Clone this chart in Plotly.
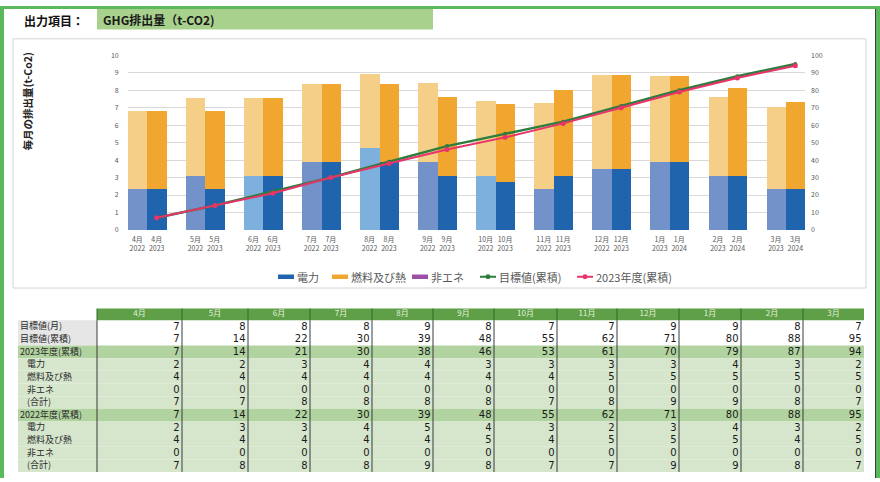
import plotly.graph_objects as go

# ---------------- data ----------------
months = ["4月", "5月", "6月", "7月", "8月", "9月", "10月", "11月", "12月", "1月", "2月", "3月"]
years_prev = ["2022"] * 9 + ["2023"] * 3
years_curr = ["2023"] * 9 + ["2024"] * 3

# chart bars (t-CO2)
bar_elec_2022 = [2.32, 3.10, 3.10, 3.89, 4.67, 3.89, 3.10, 2.32, 3.50, 3.89, 3.10, 2.32]
bar_fuel_2022 = [4.47, 4.45, 4.45, 4.47, 4.25, 4.50, 4.25, 4.93, 5.38, 4.91, 4.47, 4.73]
bar_elec_2023 = [2.32, 2.32, 3.10, 3.89, 3.89, 3.10, 2.71, 3.10, 3.50, 3.89, 3.10, 2.32]
bar_fuel_2023 = [4.47, 4.47, 4.45, 4.47, 4.47, 4.47, 4.47, 4.92, 5.38, 4.91, 4.99, 4.99]
bar_nonen_2023 = [0] * 12

# table rows
target_month = [7, 8, 8, 8, 9, 8, 7, 7, 9, 9, 8, 7]
target_cum = [7, 14, 22, 30, 39, 48, 55, 62, 71, 80, 88, 95]
cum_2023 = [7, 14, 21, 30, 38, 46, 53, 61, 70, 79, 87, 94]
elec_2023 = [2, 2, 3, 4, 4, 3, 3, 3, 3, 4, 3, 2]
fuel_2023 = [4, 4, 4, 4, 4, 4, 4, 5, 5, 5, 5, 5]
nonen_2023 = [0] * 12
total_2023 = [7, 7, 8, 8, 8, 8, 7, 8, 9, 9, 8, 7]
cum_2022 = [7, 14, 22, 30, 39, 48, 55, 62, 71, 80, 88, 95]
elec_2022 = [2, 3, 3, 4, 5, 4, 3, 2, 3, 4, 3, 2]
fuel_2022 = [4, 4, 4, 4, 4, 5, 4, 5, 5, 5, 4, 5]
nonen_2022 = [0] * 12
total_2022 = [7, 8, 8, 8, 9, 8, 7, 7, 9, 9, 8, 7]

row_labels = ["目標値(月)", "目標値(累積)", "2023年度(累積)", "電力", "燃料及び熱", "非エネ", "(合計)",
              "2022年度(累積)", "電力", "燃料及び熱", "非エネ", "(合計)"]
row_values = [target_month, target_cum, cum_2023, elec_2023, fuel_2023, nonen_2023, total_2023,
              cum_2022, elec_2022, fuel_2022, nonen_2022, total_2022]
row_kind = ["target", "target", "major", "minor", "minor", "minor", "minor",
            "major", "minor", "minor", "minor", "minor"]

legend_names = ["電力", "燃料及び熱", "非エネ", "目標値(累積)", "2023年度(累積)"]

# ---------------- layout constants ----------------
W, H = 880, 482
JP = "Noto Sans CJK JP"
GRAY = "#595959"

C_E22 = "#7392c9"
C_E22_LIGHT = "#7db0dc"
C_E23 = "#1f64ad"
C_F22 = "#f5cf88"
C_F23 = "#f1a630"
C_NON = "#9b4fa5"
C_TGT = "#2e7d3e"
C_ACT = "#e8336b"

x_prev = [3 * i + 0.5 for i in range(12)]
x_curr = [3 * i + 1.5 for i in range(12)]
elec22_colors = [C_E22_LIGHT if m in ("6月", "8月", "10月") else C_E22 for m in months]

fig = go.Figure()

# bars
fig.add_trace(go.Bar(x=x_prev, y=bar_elec_2022, width=1, marker=dict(color=elec22_colors, line_width=0),
                     showlegend=False, name="電力 2022"))
fig.add_trace(go.Bar(x=x_prev, y=bar_fuel_2022, width=1, marker=dict(color=C_F22, line_width=0),
                     showlegend=False, name="燃料及び熱 2022"))
fig.add_trace(go.Bar(x=x_curr, y=bar_elec_2023, width=1, marker=dict(color=C_E23, line_width=0),
                     showlegend=False, name="電力"))
fig.add_trace(go.Bar(x=x_curr, y=bar_fuel_2023, width=1, marker=dict(color=C_F23, line_width=0),
                     showlegend=False, name="燃料及び熱"))
fig.add_trace(go.Bar(x=x_curr, y=bar_nonen_2023, width=1, marker=dict(color=C_NON, line_width=0),
                     showlegend=False, name="非エネ"))

# cumulative lines on right axis
fig.add_trace(go.Scatter(x=x_curr, y=target_cum, yaxis="y2", mode="lines+markers",
                         line=dict(color=C_TGT, width=2.5), marker=dict(size=4, color=C_TGT),
                         showlegend=False, name="目標値(累積)"))
fig.add_trace(go.Scatter(x=x_curr, y=cum_2023, yaxis="y2", mode="lines+markers",
                         line=dict(color=C_ACT, width=2), marker=dict(size=5, color=C_ACT),
                         showlegend=False, name="2023年度(累積)"))

# ---------------- helper pixel axis (x3/y3) ----------------
shapes = []
annotations = []

def rect(x0, y0, x1, y1, fill, line_color=None, lw=0, layer="below"):
    shapes.append(dict(type="rect", xref="x3", yref="y3", x0=x0, y0=y0, x1=x1, y1=y1,
                       fillcolor=fill, line=dict(color=line_color or fill, width=lw), layer=layer))

def vline(x, y0, y1, color, w=1):
    shapes.append(dict(type="line", xref="x3", yref="y3", x0=x, x1=x, y0=y0, y1=y1,
                       line=dict(color=color, width=w)))

# outer green frame
rect(0, 0, 4, H, "#5cb85c")
rect(0, 0, W, 3, "#5cb85c")
rect(876, 0, W, H, "#5cb85c")
vline(875.5, 3, H, "#3c3c3c")
# chart frame
shapes.append(dict(type="rect", xref="x3", yref="y3", x0=13, y0=33.5, x1=866, y1=288,
                   line=dict(color="#d4d4d4", width=1), fillcolor="rgba(0,0,0,0)"))
# title box
rect(97, 3, 433, 24, "#a9d18e")

# manual legend (short Excel-like swatches)
leg_y = 276.5
leg_start = [278, 332, 412, 480, 577]
leg_cols = [C_E23, C_F23, C_NON, C_TGT, C_ACT]
leg_marker = [False, False, False, True, True]
for nm, sx, col, mk in zip(legend_names, leg_start, leg_cols, leg_marker):
    shapes.append(dict(type="line", xref="x3", yref="y3", x0=sx, x1=sx + 16, y0=leg_y, y1=leg_y,
                       line=dict(color=col, width=2 if mk else 4.5)))
    if mk:
        shapes.append(dict(type="circle", xref="x3", yref="y3", x0=sx + 5.5, x1=sx + 10.5,
                           y0=leg_y - 2.5, y1=leg_y + 2.5, fillcolor=col, line=dict(width=0)))
    annotations.append(dict(text=nm, x=sx + 17, y=leg_y, xref="x3", yref="y3", xanchor="left",
                            yanchor="middle", showarrow=False,
                            font=dict(family=JP, size=11, color=GRAY)))

# table
col_edges = [97, 182, 248, 310, 372, 433, 494, 557, 617, 679, 741, 803, 864]
head_top, head_bot = 309, 321
row_h = 12.9
row_top0 = 321
lab_left = 18

rect(col_edges[0], head_top, col_edges[-1], head_bot, "#5f9f47")
for r, kind in enumerate(row_kind):
    y0 = row_top0 + r * row_h
    y1 = y0 + row_h
    if kind == "target":
        rect(lab_left, y0, col_edges[0], y1, "#e7e6e6")
    elif kind == "major":
        rect(lab_left, y0, col_edges[-1], y1, "#b1d39f")
    else:
        rect(lab_left, y0, col_edges[-1], y1, "#d6e6cd")
table_bot = row_top0 + len(row_kind) * row_h
for xe in col_edges[:-1]:
    vline(xe, head_top, head_bot, "#2f6b2a")
    vline(xe, head_bot, table_bot, "#3a3a3a")

# header text
fig.add_trace(go.Scatter(
    x=[(col_edges[j] + col_edges[j + 1]) / 2 for j in range(12)], y=[(head_top + head_bot) / 2] * 12,
    text=months, mode="text", textposition="middle center", xaxis="x3", yaxis="y3",
    textfont=dict(family=JP, size=8, color="#e3f1dc"), showlegend=False, hoverinfo="skip"))

# values
vx, vy, vt = [], [], []
for r, vals in enumerate(row_values):
    for j, v in enumerate(vals):
        vx.append(col_edges[j + 1] - 2.5)
        vy.append(row_top0 + r * row_h + row_h / 2 + 0.5)
        vt.append(str(v))
fig.add_trace(go.Scatter(x=vx, y=vy, text=vt, mode="text", textposition="middle left",
                         xaxis="x3", yaxis="y3", showlegend=False, hoverinfo="skip",
                         textfont=dict(family="DejaVu Sans", size=10, color="#1a1a1a")))
# labels
lx = [lab_left + 2 if k in ("target", "major") else lab_left + 9 for k in row_kind]
ly = [row_top0 + r * row_h + row_h / 2 + 0.5 for r in range(len(row_kind))]
fig.add_trace(go.Scatter(x=lx, y=ly, text=row_labels, mode="text", textposition="middle right",
                         xaxis="x3", yaxis="y3", showlegend=False, hoverinfo="skip",
                         textfont=dict(family=JP, size=9, color="#2a2a2a")))

# ---------------- axes / layout ----------------
def px(xp):
    return xp / W
def py(yp):
    return 1 - yp / H

ticktext = []
tickvals = []
for i in range(12):
    tickvals += [x_prev[i], x_curr[i]]
    ticktext += [f"{months[i]}<br>{years_prev[i]}", f"{months[i]}<br>{years_curr[i]}"]

annotations += [
    dict(text="<b>出力項目：</b>", x=px(22), y=py(15), xref="paper", yref="paper",
         xanchor="left", yanchor="middle", showarrow=False,
         font=dict(family=JP, size=12, color="#111111")),
    dict(text="<b>GHG排出量（t-CO2)</b>", x=px(101), y=py(13.5), xref="paper", yref="paper",
         xanchor="left", yanchor="middle", showarrow=False,
         font=dict(family=JP, size=12, color="#1a1a1a")),
    dict(text="<b>毎月の排出量(t-Co2)</b>", x=px(28), y=py(44), xref="paper", yref="paper",
         xanchor="center", yanchor="top", textangle=-90, showarrow=False,
         font=dict(family=JP, size=10.5, color="#222222")),
]

fig.update_layout(
    width=W, height=H, margin=dict(l=0, r=0, t=0, b=0),
    paper_bgcolor="white", plot_bgcolor="rgba(0,0,0,0)",
    barmode="relative", bargap=0, showlegend=False,
    font=dict(family=JP, color=GRAY),
    xaxis=dict(domain=[px(127.7), px(805)], range=[0, 35], tickmode="array", tickvals=tickvals,
               ticktext=ticktext, tickfont=dict(size=7, color=GRAY, family=JP), showgrid=False,
               zeroline=False, showline=False, ticks="", ticklabelstandoff=4, fixedrange=True,
               anchor="y"),
    yaxis=dict(domain=[py(228.7), py(50.3)], range=[0, 10], dtick=1, gridcolor="#d9d9d9",
               gridwidth=1, zeroline=False, showline=False, tickfont=dict(size=7, color=GRAY),
               ticklabelstandoff=8, fixedrange=True, anchor="x"),
    yaxis2=dict(overlaying="y", side="right", range=[0, 100], dtick=10, showgrid=False,
                zeroline=False, showline=False, tickfont=dict(size=7, color=GRAY),
                ticklabelstandoff=5, fixedrange=True, anchor="x"),
    xaxis3=dict(domain=[0, 1], range=[0, W], visible=False, fixedrange=True, anchor="y3"),
    yaxis3=dict(domain=[0, 1], range=[H, 0], visible=False, fixedrange=True, anchor="x3"),
    shapes=shapes,
    annotations=annotations,
)

fig.write_html("out.html", config={"displayModeBar": False},
               post_script="document.body.style.margin='0';document.body.style.overflow='hidden';")
